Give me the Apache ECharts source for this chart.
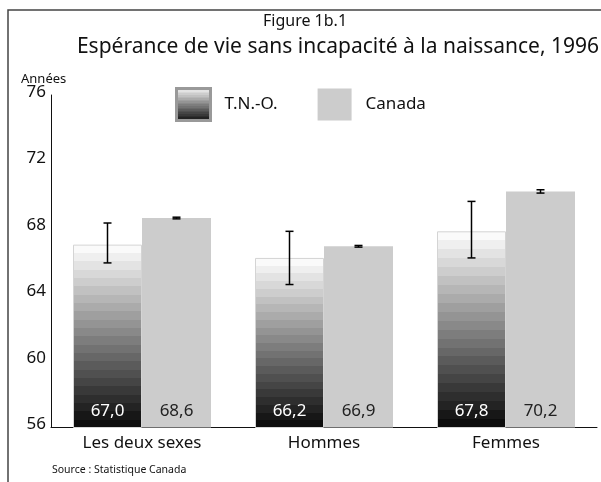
<!DOCTYPE html>
<html>
<head>
<meta charset="utf-8">
<script src="https://cdn.jsdelivr.net/npm/echarts@6/dist/echarts.min.js"></script>
<style>
  html, body { margin: 0; padding: 0; background: #fff; }
  #chart { width: 601px; height: 482px; }
</style>
</head>
<body>
<div id="chart"></div>
<script>
// données
const categories = ['Les deux sexes', 'Hommes', 'Femmes']
const tnoValues = [67.0, 66.2, 67.8]
const canadaValues = [68.6, 66.9, 70.2]
// intervalles de confiance (bornes basse / haute)
const tnoLow = [65.9, 64.6, 66.2]
const tnoHigh = [68.3, 67.8, 69.6]
const canadaLow = [68.55, 66.85, 70.1]
const canadaHigh = [68.65, 66.95, 70.3]

const FONT = 'Noto Sans'
const BAR_W = 69

// dégradé en bandes : blanc en haut, noir en bas
function bandedGradient(n) {
  const stops = []
  for (let i = 0; i < n; i++) {
    const g = Math.round(250 - i * (250 - 12) / (n - 1))
    const c = 'rgb(' + g + ',' + g + ',' + g + ')'
    stops.push({ offset: i / n, color: c })
    stops.push({ offset: (i + 1) / n, color: c })
  }
  return { type: 'linear', x: 0, y: 0, x2: 0, y2: 1, colorStops: stops }
}

const fmt = p => p.value.toFixed(1).replace('.', ',')

function errorSeries(name, low, high, offset) {
  return {
    name: name + '-err',
    type: 'custom',
    z: 10,
    data: categories.map((c, i) => [i, low[i], high[i]]),
    encode: { x: 0, y: [1, 2] },
    renderItem: function (params, api) {
      const lo = api.coord([api.value(0), api.value(1)])
      const hi = api.coord([api.value(0), api.value(2)])
      const x = lo[0] + offset
      const w = 4
      const style = { stroke: '#000', lineWidth: 1.5 }
      return {
        type: 'group',
        children: [
          { type: 'line', shape: { x1: x, y1: hi[1], x2: x, y2: lo[1] }, style: style },
          { type: 'line', shape: { x1: x - w, y1: hi[1], x2: x + w, y2: hi[1] }, style: style },
          { type: 'line', shape: { x1: x - w, y1: lo[1], x2: x + w, y2: lo[1] }, style: style }
        ]
      }
    }
  }
}

const chart = echarts.init(document.getElementById('chart'))
const option = {
  animation: false,
  textStyle: { fontFamily: FONT },
  title: [
    {
      text: 'Figure 1b.1',
      left: 300, top: 8, textAlign: 'center',
      textStyle: { fontFamily: FONT, fontSize: 16, fontWeight: 'normal', color: '#111' }
    },
    {
      text: 'Espérance de vie sans incapacité à la naissance, 1996',
      left: 333, top: 32, textAlign: 'center',
      textStyle: { fontFamily: FONT, fontSize: 21, fontWeight: 'normal', color: '#111' }
    },
    {
      text: 'Années',
      left: 16, top: 68,
      textStyle: { fontFamily: FONT, fontSize: 13, fontWeight: 'normal', color: '#111' }
    },
    {
      text: 'Source : Statistique Canada',
      left: 47, top: 460,
      textStyle: { fontFamily: FONT, fontSize: 10.5, fontWeight: 'normal', color: '#111' }
    }
  ],
  legend: {
    left: 170, top: 82,
    itemWidth: 34, itemHeight: 32, itemGap: 40,
    textStyle: { fontFamily: FONT, fontSize: 17, color: '#111', padding: [0, 0, 0, 9] },
    data: [
      { name: 'T.N.-O.', icon: 'rect', itemStyle: { borderColor: '#999', borderWidth: 3 } },
      { name: 'Canada', icon: 'rect' }
    ]
  },
  grid: { left: 51, right: 4, top: 95, bottom: 54.5 },
  xAxis: {
    type: 'category',
    data: categories,
    axisLine: { lineStyle: { color: '#111', width: 1 } },
    axisTick: { show: false },
    axisLabel: { fontFamily: FONT, fontSize: 17, color: '#111', margin: 7 }
  },
  yAxis: {
    type: 'value',
    min: 56, max: 76, interval: 4,
    axisLine: { show: true, lineStyle: { color: '#111', width: 1 } },
    axisTick: { show: false },
    splitLine: { show: false },
    axisLabel: {
      fontFamily: FONT, fontSize: 17, color: '#111', margin: 5,
      verticalAlign: 'bottom', lineHeight: 6
    }
  },
  series: [
    {
      name: 'T.N.-O.',
      type: 'bar',
      data: tnoValues,
      barWidth: BAR_W,
      barGap: '0%',
      itemStyle: { color: bandedGradient(22), borderColor: '#d4d4d4', borderWidth: 1 },
      label: {
        show: true, position: 'insideBottom', distance: 8,
        fontFamily: FONT, fontSize: 17, color: '#fff', formatter: fmt
      }
    },
    {
      name: 'Canada',
      type: 'bar',
      data: canadaValues,
      barWidth: BAR_W,
      itemStyle: { color: '#cccccc' },
      label: {
        show: true, position: 'insideBottom', distance: 8,
        fontFamily: FONT, fontSize: 17, color: '#222', formatter: fmt
      }
    },
    errorSeries('T.N.-O.', tnoLow, tnoHigh, -BAR_W / 2),
    errorSeries('Canada', canadaLow, canadaHigh, BAR_W / 2)
  ],
  graphic: [
    {
      type: 'polyline',
      shape: { points: [[8, 482], [8, 10], [601, 10]] },
      style: { stroke: '#444', lineWidth: 1.5, fill: null }
    }
  ]
}
chart.setOption(option)
</script>
</body>
</html>
